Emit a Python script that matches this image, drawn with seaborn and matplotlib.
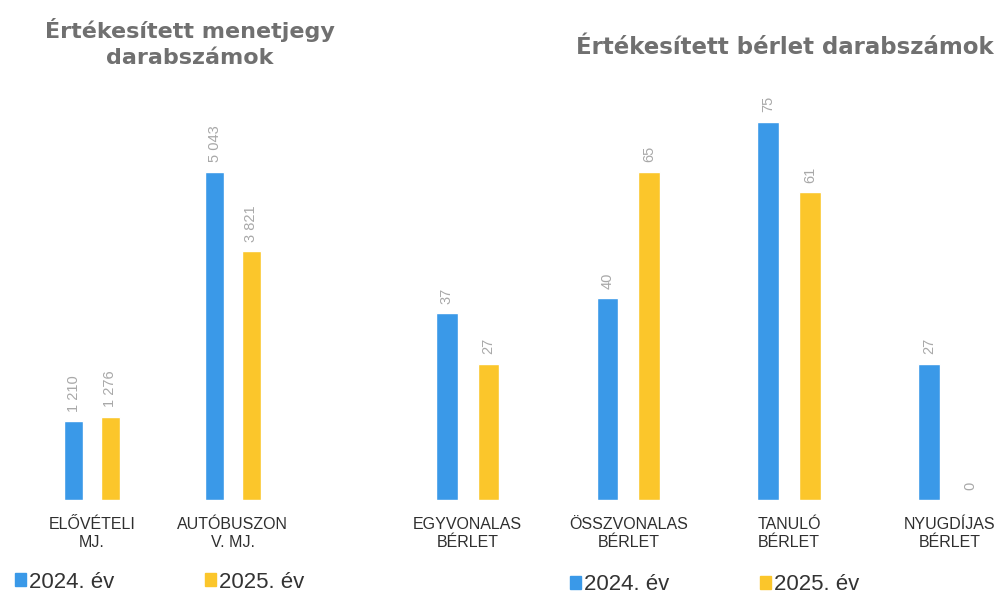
import pandas as pd
import matplotlib.pyplot as plt
import seaborn as sns

# data
years = ["2024. év", "2025. év"]
jegy_cats = ["ELŐVÉTELI\nMJ.", "AUTÓBUSZON\nV. MJ."]
jegy_2024 = [1210, 5043]
jegy_2025 = [1276, 3821]
berlet_cats = ["EGYVONALAS\nBÉRLET", "ÖSSZVONALAS\nBÉRLET", "TANULÓ\nBÉRLET", "NYUGDÍJAS\nBÉRLET"]
berlet_2024 = [37, 40, 75, 27]
berlet_2025 = [27, 65, 61, 0]

colors = ["#3a99e8", "#fbc62b"]

sns.set_theme(style="white")
plt.rcParams["font.family"] = ["Liberation Sans", "DejaVu Sans"]


def long_table(cats, a, b):
    rows = []
    for c, v in zip(cats, a):
        rows.append({"cat": c, "year": years[0], "val": v})
    for c, v in zip(cats, b):
        rows.append({"cat": c, "year": years[1], "val": v})
    return pd.DataFrame(rows)


def thousands(v):
    return f"{v:,.0f}".replace(",", " ")


fig = plt.figure(figsize=(10.06, 5.95), dpi=100)
W, H = 1006, 595
ax1 = fig.add_axes([21.5 / W, 95 / H, 310 / W, 410 / H])
ax2 = fig.add_axes([389 / W, 95 / H, 617 / W, 410 / H])

panels = [
    (ax1, long_table(jegy_cats, jegy_2024, jegy_2025), (-0.5, 1.7), 6300),
    (ax2, long_table(berlet_cats, berlet_2024, berlet_2025), (-0.49, 3.35), 81.3),
]

for ax, df, xl, ytop in panels:
    sns.barplot(data=df, x="cat", y="val", hue="year", palette=colors,
                width=0.52, gap=0.48, ax=ax, legend=False, saturation=1)
    for cont in ax.containers:
        ax.bar_label(cont, fmt=thousands, rotation=90, padding=7,
                     color="#a8a8a8", fontsize=10.5)
    ax.set_xlim(*xl)
    ax.set_ylim(0, ytop)
    ax.set_xlabel("")
    ax.set_ylabel("")
    ax.set_yticks([])
    sns.despine(ax=ax, left=True, bottom=True)
    ax.tick_params(axis="x", length=0, pad=12, labelsize=11.5, labelcolor="#2f2f2f")
    for lab in ax.get_xticklabels():
        lab.set_linespacing(1.25)

# titles
fig.text(190 / W, 1 - 43 / H, "Értékesített menetjegy\ndarabszámok", ha="center",
         va="center", fontsize=16, fontweight="bold", color="#707070",
         linespacing=1.35, family=["DejaVu Sans"])
fig.text(785 / W, 1 - 48 / H, "Értékesített bérlet darabszámok", ha="center",
         va="center", fontsize=16.5, fontweight="bold", color="#707070",
         family=["DejaVu Sans"])

# legends
handles = [plt.Rectangle((0, 0), 1, 1, color=c) for c in colors]
fig.legend(handles, years, loc="center left", bbox_to_anchor=(-5 / W, 1 - 582 / H),
           ncol=2, frameon=False, fontsize=16, handlelength=0.5, handleheight=0.5,
           handletextpad=0.15, columnspacing=4.05, labelcolor="#333333")
fig.legend(handles, years, loc="center left", bbox_to_anchor=(550 / W, 1 - 585 / H),
           ncol=2, frameon=False, fontsize=16, handlelength=0.5, handleheight=0.5,
           handletextpad=0.15, columnspacing=4.05, labelcolor="#333333")

fig.savefig("out.png", dpi=100)
